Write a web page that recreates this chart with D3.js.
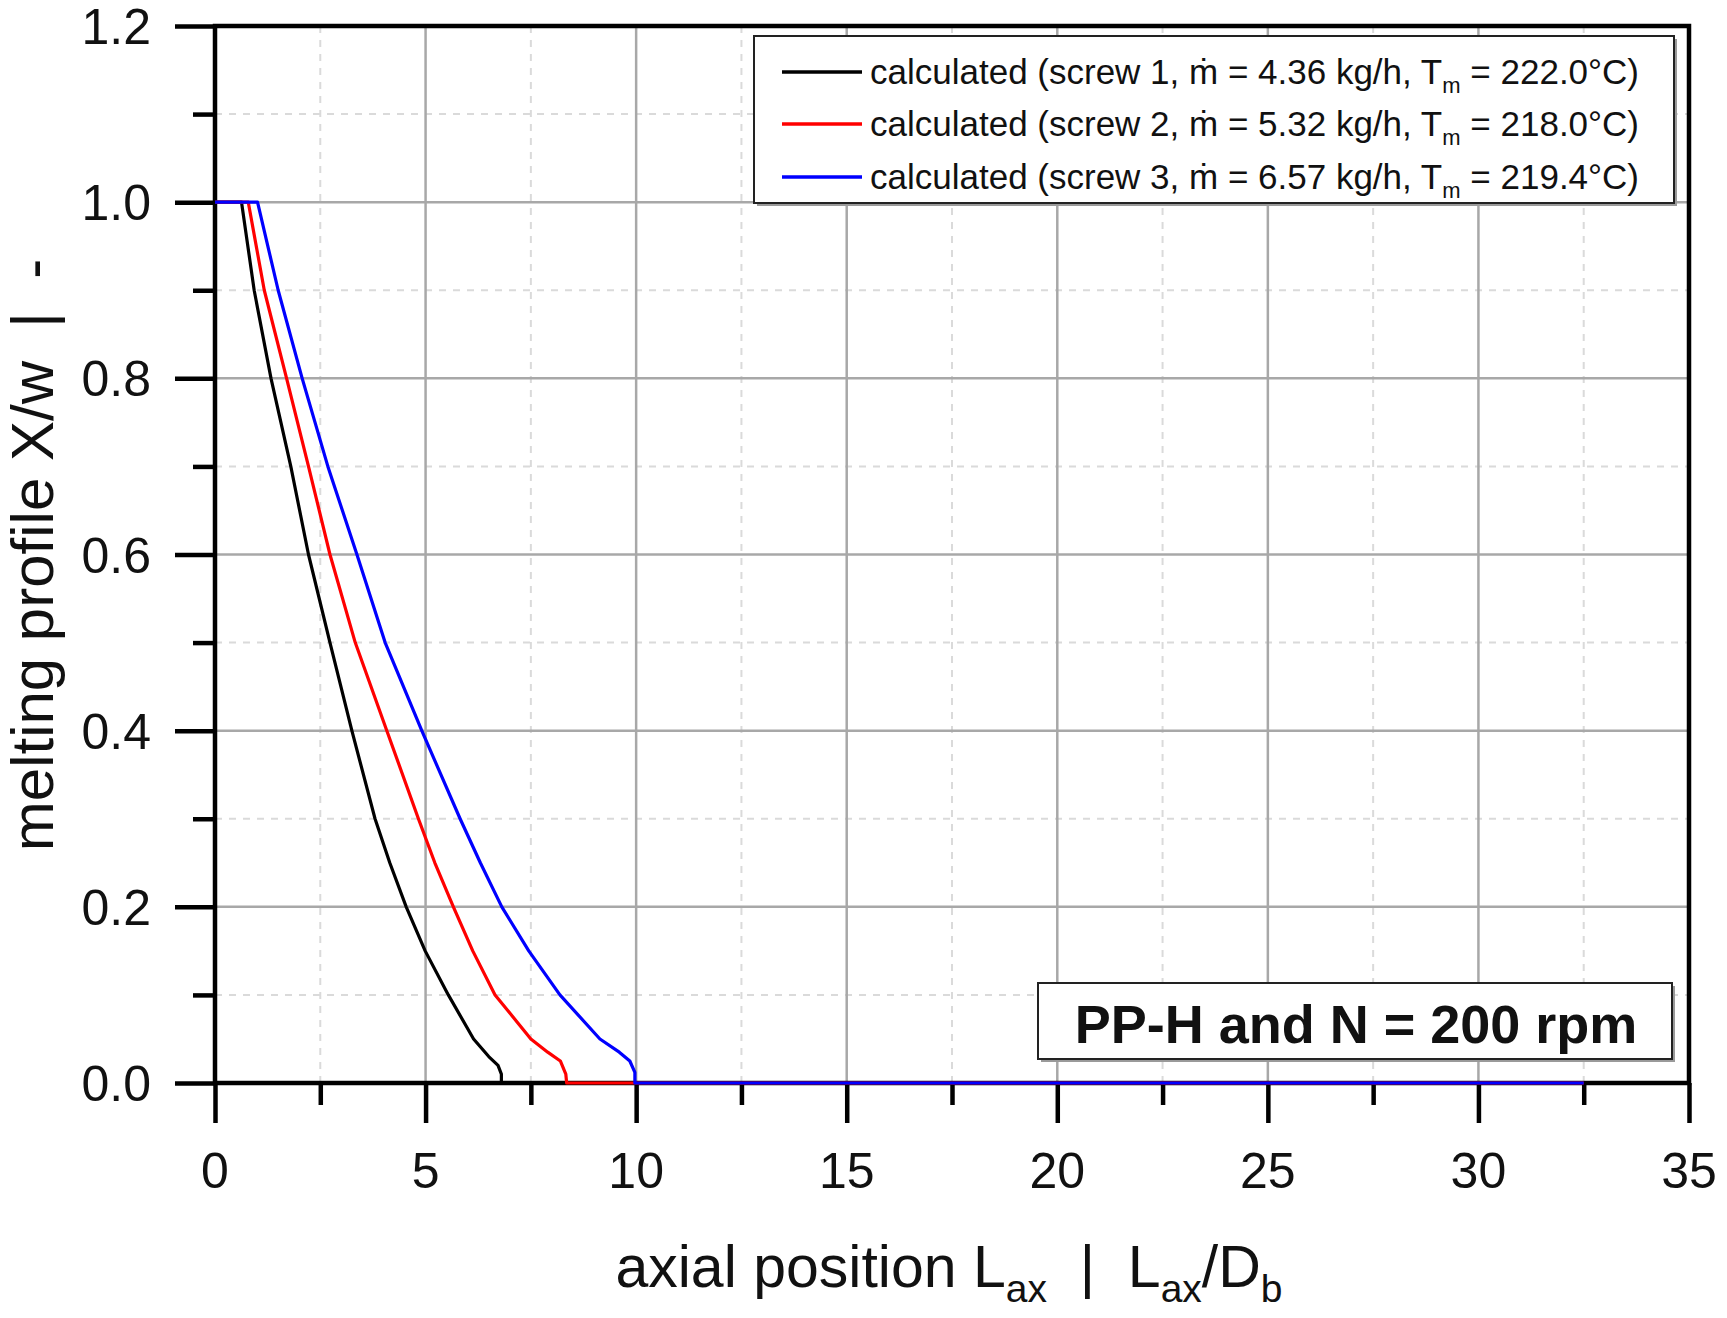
<!doctype html>
<html lang="en">
<head>
  <meta charset="utf-8">
  <title>melting profile</title>
  <script src="https://cdnjs.cloudflare.com/ajax/libs/d3/7.8.5/d3.min.js"></script>
  <style>
    body { margin: 0; background: #fff; }
    text { font-family: "Liberation Sans", Arial, sans-serif; fill: #111; }
  </style>
</head>
<body>
  <svg width="1727" height="1318" id="svg"></svg>
<script>

// data (x = L_ax/D_b, y = X/w)
var screw1X = [0, 0.63, 0.93, 1.33, 1.80, 2.22, 2.73, 3.25, 3.80, 4.15, 4.54, 4.99, 5.54, 6.14, 6.50, 6.72, 6.80, 6.80, 32.5];
var screw1Y = [1, 1,    0.9,  0.8,  0.7,  0.6,  0.5,  0.4,  0.3,  0.25, 0.2,  0.15, 0.1,  0.05, 0.03, 0.02, 0.01, 0,    0];
var screw2X = [0, 0.79, 1.17, 1.70, 2.22, 2.73, 3.33, 4.08, 4.83, 5.22, 5.66, 6.12, 6.65, 7.50, 7.90, 8.20, 8.33, 8.35, 32.5];
var screw2Y = [1, 1,    0.9,  0.8,  0.7,  0.6,  0.5,  0.4,  0.3,  0.25, 0.2,  0.15, 0.1,  0.05, 0.035, 0.025, 0.01, 0,  0];
var screw3X = [0, 1.01, 1.50, 2.07, 2.68, 3.37, 4.04, 4.91, 5.82, 6.30, 6.81, 7.45, 8.19, 9.14, 9.60, 9.85, 9.97, 9.97, 32.5];
var screw3Y = [1, 1,    0.9,  0.8,  0.7,  0.6,  0.5,  0.4,  0.3,  0.25, 0.2,  0.15, 0.1,  0.05, 0.035, 0.025, 0.012, 0, 0];

var seriesColors = ['#000000', '#ff0000', '#0000ff'];
var legendScrew = ['screw 1', 'screw 2', 'screw 3'];
var legendFlow = ['4.36', '5.32', '6.57'];
var legendTemp = ['222.0', '218.0', '219.4'];

var xMajor = [0, 5, 10, 15, 20, 25, 30, 35];
var xMinor = [2.5, 7.5, 12.5, 17.5, 22.5, 27.5, 32.5];
var yMajor = [0, 0.2, 0.4, 0.6, 0.8, 1.0, 1.2];
var yMinor = [0.1, 0.3, 0.5, 0.7, 0.9, 1.1];

var pLeft = 215, pRight = 1689, pTop = 26, pBottom = 1083;

var svg = d3.select('#svg');

var x = d3.scaleLinear().domain([0, 35]).range([pLeft, pRight]);
var y = d3.scaleLinear().domain([0, 1.2]).range([pBottom, pTop]);

// grid
svg.append('g').selectAll('line')
	.data(xMinor)
	.enter().append('line')
	.attr('x1', d => x(d)).attr('x2', d => x(d))
	.attr('y1', pTop).attr('y2', pBottom)
	.attr('stroke', '#dadada').attr('stroke-width', 2).attr('stroke-dasharray', '7,7');

svg.append('g').selectAll('line')
	.data(yMinor)
	.enter().append('line')
	.attr('x1', pLeft).attr('x2', pRight)
	.attr('y1', d => y(d)).attr('y2', d => y(d))
	.attr('stroke', '#dadada').attr('stroke-width', 2).attr('stroke-dasharray', '7,7');

svg.append('g').selectAll('line')
	.data(xMajor.slice(1, -1))
	.enter().append('line')
	.attr('x1', d => x(d)).attr('x2', d => x(d))
	.attr('y1', pTop).attr('y2', pBottom)
	.attr('stroke', '#a8a8a8').attr('stroke-width', 2.5);

svg.append('g').selectAll('line')
	.data(yMajor.slice(1, -1))
	.enter().append('line')
	.attr('x1', pLeft).attr('x2', pRight)
	.attr('y1', d => y(d)).attr('y2', d => y(d))
	.attr('stroke', '#a8a8a8').attr('stroke-width', 2.5);

// axes (ticks point outward)
function styleAxis(g) {
	g.select('.domain').remove();
	g.selectAll('.tick line').attr('stroke', '#000').attr('stroke-width', 4.5);
	g.selectAll('.tick text').remove();
}

svg.append('g').attr('transform', 'translate(' + pLeft + ',0)')
	.call(d3.axisLeft(y).tickValues(yMajor).tickSize(40)).call(styleAxis);
svg.append('g').attr('transform', 'translate(' + pLeft + ',0)')
	.call(d3.axisLeft(y).tickValues(yMinor).tickSize(22)).call(styleAxis);
svg.append('g').attr('transform', 'translate(0,' + pBottom + ')')
	.call(d3.axisBottom(x).tickValues(xMajor).tickSize(40)).call(styleAxis);
svg.append('g').attr('transform', 'translate(0,' + pBottom + ')')
	.call(d3.axisBottom(x).tickValues(xMinor).tickSize(22)).call(styleAxis);

svg.append('rect')
	.attr('x', pLeft).attr('y', pTop)
	.attr('width', pRight - pLeft).attr('height', pBottom - pTop)
	.attr('fill', 'none').attr('stroke', '#000').attr('stroke-width', 4.5);

// tick labels
svg.append('g').selectAll('text')
	.data(yMajor)
	.enter().append('text')
	.attr('x', 151).attr('y', d => y(d) + 18)
	.attr('text-anchor', 'end')
	.style('font-size', '50px')
	.text(d => d3.format('.1f')(d));

svg.append('g').selectAll('text')
	.data(xMajor)
	.enter().append('text')
	.attr('x', d => x(d)).attr('y', 1188)
	.attr('text-anchor', 'middle')
	.style('font-size', '50px')
	.text(d => d);

// curves
var line = d3.line().x(d => x(d[0])).y(d => y(d[1]));
var curves = [
	d3.zip(screw1X, screw1Y),
	d3.zip(screw2X, screw2Y),
	d3.zip(screw3X, screw3Y)
];

svg.append('g').selectAll('path')
	.data(curves)
	.enter().append('path')
	.attr('d', line)
	.attr('fill', 'none')
	.attr('stroke', (d, i) => seriesColors[i])
	.attr('stroke-width', 3.2)
	.attr('stroke-linejoin', 'round');

// legend
svg.append('rect').attr('x', 757).attr('y', 39).attr('width', 920).attr('height', 167).attr('fill', '#9a9a9a');
svg.append('rect').attr('x', 754).attr('y', 36).attr('width', 920).attr('height', 167)
	.attr('fill', '#fff').attr('stroke', '#222').attr('stroke-width', 2);

var legendRows = [72, 124, 177];
var leg = svg.append('g').selectAll('g')
	.data(seriesColors)
	.enter().append('g')
	.attr('transform', (d, i) => 'translate(0,' + legendRows[i] + ')');

leg.append('line')
	.attr('x1', 782).attr('x2', 862)
	.attr('stroke', d => d).attr('stroke-width', 3.5);

var lt = leg.append('text')
	.attr('x', 870).attr('y', 12)
	.style('font-size', '35px');
lt.append('tspan').text((d, i) => 'calculated (' + legendScrew[i] + ', \u1E41 = ' + legendFlow[i] + ' kg/h, T');
lt.append('tspan').attr('dy', 9).style('font-size', '22px').text('m');
lt.append('tspan').attr('dy', -9).text((d, i) => ' = ' + legendTemp[i] + '\u00B0C)');

// annotation box
svg.append('rect').attr('x', 1041).attr('y', 986).attr('width', 634).attr('height', 76).attr('fill', '#9a9a9a');
svg.append('rect').attr('x', 1038).attr('y', 983).attr('width', 634).attr('height', 76)
	.attr('fill', '#fff').attr('stroke', '#222').attr('stroke-width', 2);
svg.append('text')
	.attr('x', 1356).attr('y', 1043)
	.attr('text-anchor', 'middle')
	.style('font-size', '54px').style('font-weight', 'bold')
	.text('PP-H and N = 200 rpm');

// axis titles
var xt = svg.append('text')
	.attr('x', (pLeft + pRight) / 2 - 3).attr('y', 1287)
	.attr('text-anchor', 'middle')
	.style('font-size', '59px')
	.style('white-space', 'pre');
xt.append('tspan').text('axial position L');
xt.append('tspan').attr('dy', 15).style('font-size', '39px').text('ax');
xt.append('tspan').attr('dy', -15).text('  |  L');
xt.append('tspan').attr('dy', 15).style('font-size', '39px').text('ax');
xt.append('tspan').attr('dy', -15).text('/D');
xt.append('tspan').attr('dy', 15).style('font-size', '39px').text('b');

svg.append('text')
	.attr('transform', 'translate(53,555) rotate(-90)')
	.attr('text-anchor', 'middle')
	.style('font-size', '60px')
	.style('white-space', 'pre')
	.text('melting profile X/w  |  -');

</script>
</body>
</html>
